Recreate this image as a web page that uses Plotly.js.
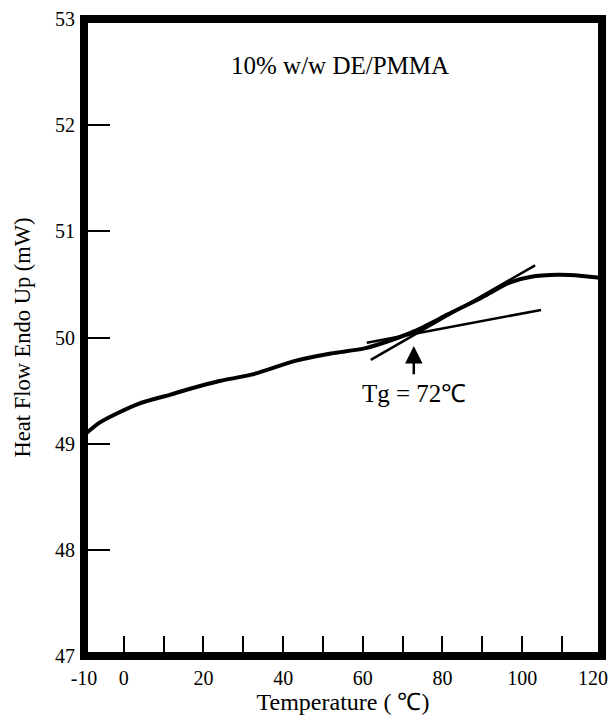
<!DOCTYPE html>
<html><head><meta charset="utf-8">
<script src="https://cdn.plot.ly/plotly-3.0.1.min.js"></script>
<style>html,body{margin:0;padding:0;background:#fff}</style>
</head><body><div id="chart" style="width:612px;height:724px"></div>
<script>
const temperature = [-10, -6, -2, 4, 11.5, 16, 24, 32, 43, 52, 60.7, 69, 73, 81.5, 90, 97, 102, 109, 115, 120];
const heatFlow = [49.08, 49.2, 49.28, 49.38, 49.46, 49.51, 49.59, 49.65, 49.78, 49.85, 49.90, 50.00, 50.06, 50.22, 50.38, 50.52, 50.57, 50.59, 50.58, 50.56];
const tangentT = [62, 103.25];
const tangentH = [49.79, 50.68];
const baselineT = [61, 104.75];
const baselineH = [49.95, 50.26];
const tgValue = 72.8;
const tgArrowHead = 49.92;
const tgArrowTail = 49.64;
const tgLabelY = 49.47;
const xTickVals = [-10, 0, 10, 20, 30, 40, 50, 60, 70, 80, 90, 100, 110, 120];
const xTickText = ['-10', '0', '', '20', '', '40', '', '60', '', '80', '', '100', '', ''];
const xEdgeLabelValue = 120;
const xEdgeLabelText = '120';
const yTickVals = [47, 48, 49, 50, 51, 52, 53];
const yTickText = ['47', '48', '49', '50', '51', '52', '53'];

const serif = 'Liberation Serif, Times New Roman, serif';

const traces = [
  {x: temperature, y: heatFlow, mode: 'lines', line: {color: '#000', width: 4, shape: 'spline', smoothing: 0.8}, hoverinfo: 'skip'},
  {x: tangentT, y: tangentH, mode: 'lines', line: {color: '#000', width: 2.5}, hoverinfo: 'skip'},
  {x: baselineT, y: baselineH, mode: 'lines', line: {color: '#000', width: 2.5}, hoverinfo: 'skip'}
];

const layout = {
  width: 612, height: 724,
  margin: {l: 84, r: 10, t: 19, b: 68},
  paper_bgcolor: '#fff', plot_bgcolor: '#fff',
  showlegend: false,
  font: {family: serif, color: '#000', size: 20},
  xaxis: {
    range: [-10, 120.05], showgrid: false, zeroline: false, showline: false,
    tickmode: 'array', tickvals: xTickVals, ticktext: xTickText,
    ticks: 'inside', ticklen: 20, tickwidth: 2, tickcolor: '#000',
    ticklabelstandoff: 8,
    tickfont: {family: serif, size: 20, color: '#000'},
    title: {text: 'Temperature ( ℃)', font: {family: serif, size: 24, color: '#000'}, standoff: 2}
  },
  yaxis: {
    range: [47, 53], showgrid: false, zeroline: false, showline: false,
    tickmode: 'array', tickvals: yTickVals, ticktext: yTickText,
    ticks: 'inside', ticklen: 26, tickwidth: 2, tickcolor: '#000',
    ticklabelstandoff: 8,
    tickfont: {family: serif, size: 20, color: '#000'},
    title: {text: 'Heat Flow Endo Up (mW)', font: {family: serif, size: 22.5, color: '#000'}, standoff: 18}
  },
  shapes: [
    {type: 'rect', xref: 'paper', yref: 'paper', x0: 0, x1: 1, y0: 0, y1: 1, line: {color: '#000', width: 8}}
  ],
  annotations: [
    {xref: 'paper', yref: 'paper', x: 0.495, y: 0.927, text: '10% w/w DE/PMMA', showarrow: false,
     font: {family: serif, size: 25, color: '#000'}, xanchor: 'center', yanchor: 'middle'},
    {x: tgValue, y: tgArrowHead, ax: tgValue, ay: tgArrowTail, axref: 'x', ayref: 'y', text: '',
     showarrow: true, arrowhead: 2, arrowsize: 1.4, arrowwidth: 2.5, arrowcolor: '#000'},
    {x: tgValue, y: tgLabelY, text: 'Tg = 72℃', showarrow: false,
     font: {family: serif, size: 25, color: '#000'}, xanchor: 'center', yanchor: 'middle'},
    {x: xEdgeLabelValue, xref: 'x', yref: 'paper', y: -0.035, text: xEdgeLabelText, showarrow: false,
     font: {family: serif, size: 20, color: '#000'}, xanchor: 'right', yanchor: 'middle', xshift: 8}
  ]
};

Plotly.newPlot('chart', traces, layout, {displayModeBar: false, staticPlot: true});
</script></body></html>
